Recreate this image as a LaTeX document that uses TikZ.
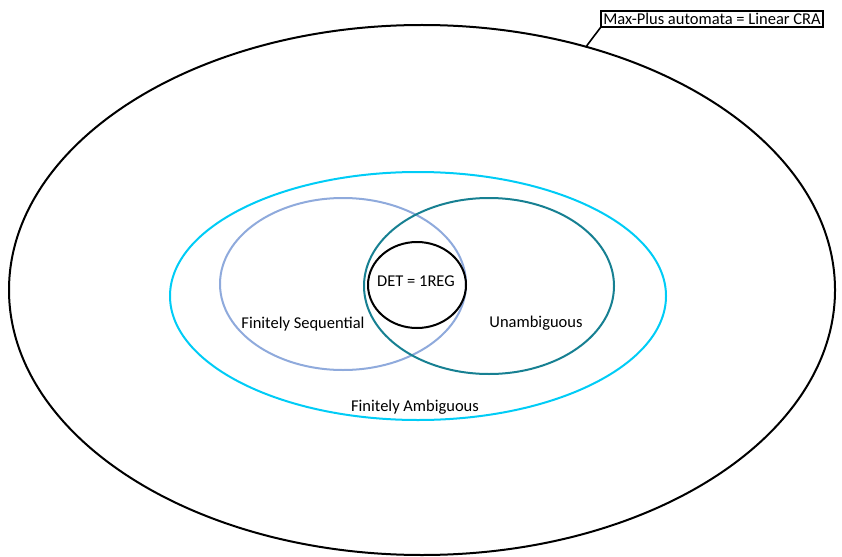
\documentclass[tikz,border=0pt]{standalone}
\usepackage{fontspec}
\setmainfont{Carlito}
\usepackage{xcolor}
\usetikzlibrary{positioning, shapes.geometric}

\definecolor{faCyan}{RGB}{0,204,246}
\definecolor{fsBlue}{RGB}{143,170,220}
\definecolor{unTeal}{RGB}{23,128,146}

\begin{document}
\begin{tikzpicture}[
      x=1pt, y=-1pt,
      set/.style={
        draw,
        ellipse,
        line width=2pt,
        inner sep=0pt
      },
      lbl/.style={
        font=\fontsize{16.5}{19}\selectfont
      }
    ]
    \useasboundingbox (0,0) rectangle (842,556);

    \node[set, black, minimum width=826pt, minimum height=530pt] (outer) at (422,290) {};
    \node[set, faCyan, minimum width=496pt, minimum height=248pt] (finamb) at (418,296) {};
    \node[set, fsBlue, minimum width=246pt, minimum height=172pt] (finseq) at (343,284) {};
    \node[set, unTeal, minimum width=250pt, minimum height=176pt] (unamb) at (489,286) {};
    \node[set, black, minimum width=98pt, minimum height=86pt] (det) at (417,285) {};

    \node[lbl] (detlbl) at (416,281) {DET = 1REG};
    \node[lbl] (finseqlbl) at (303,324) {Finitely Sequential};
    \node[lbl] (unamblbl) at (536,323) {Unambiguous};
    \node[lbl] (finamblbl) at (415,407) {Finitely Ambiguous};

    \node[lbl, draw, line width=1.6pt, inner sep=2pt] (callout) at (712,19) {Max-Plus automata = Linear CRA};
    \draw[line width=1.6pt] (callout.south west) -- (outer.56);

    \end{tikzpicture}
\end{document}
